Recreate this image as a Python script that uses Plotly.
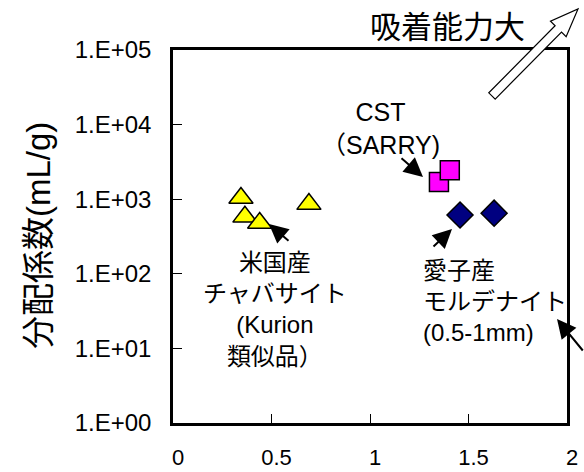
import math
import plotly.graph_objects as go

# ---- data ----
chabazite_x = [0.345, 0.365, 0.44, 0.69]
chabazite_y = [1040, 580, 480, 860]
cst_x = [1.35, 1.405]
cst_y = [1700, 2450]
mordenite_x = [1.457, 1.63]
mordenite_y = [615, 650]

x_tickvals = [0, 0.5, 1, 1.5, 2]
x_ticktext = ["0", "0.5", "1", "1.5", "2"]
y_tickvals = [1, 10, 100, 1000, 10000, 100000]
y_ticktext = ["1.E+00", "1.E+01", "1.E+02", "1.E+03", "1.E+04", "1.E+05"]

W, H = 584, 472
L, R, T, B = 173, 17, 50, 49
PW, PH = W - L - R, H - T - B

FONT = "Liberation Sans, Arial, Noto Sans CJK JP"


def px(xp):
    return (xp - L) / PW


def py(yp):
    return (H - B - yp) / PH


fig = go.Figure()

fig.add_trace(go.Scatter(
    x=chabazite_x, y=chabazite_y, mode="markers", name="チャバサイト",
    marker=dict(symbol="triangle-up", size=21, color="#FFFF00",
                line=dict(color="black", width=1.5)),
))
fig.add_trace(go.Scatter(
    x=cst_x, y=cst_y, mode="markers", name="CST",
    marker=dict(symbol="square", size=19, color="#FF00FF",
                line=dict(color="black", width=1.5)),
))
fig.add_trace(go.Scatter(
    x=mordenite_x, y=mordenite_y, mode="markers", name="モルデナイト",
    marker=dict(symbol="diamond", size=20, color="#000080",
                line=dict(color="black", width=1.5)),
))

# hollow block arrow ("吸着能力大")
tail = (492, 96)
tip = (578, 9)
dx, dy = tip[0] - tail[0], tip[1] - tail[1]
ln = math.hypot(dx, dy)
ux, uy = dx / ln, dy / ln
nx, ny = -uy, ux
hl, w, Wd = 28, 4.5, 11
bx, by = tip[0] - ux * hl, tip[1] - uy * hl
pts = [
    (tail[0] + nx * w, tail[1] + ny * w),
    (bx + nx * w, by + ny * w),
    (bx + nx * Wd, by + ny * Wd),
    tip,
    (bx - nx * Wd, by - ny * Wd),
    (bx - nx * w, by - ny * w),
    (tail[0] - nx * w, tail[1] - ny * w),
]
path = "M " + " L ".join(f"{px(a):.5f},{py(b):.5f}" for a, b in pts) + " Z"
fig.add_shape(type="path", path=path, xref="paper", yref="paper",
              fillcolor="white", line=dict(color="black", width=1.2),
              layer="above")

annos = []
# texts
annos.append(dict(text="吸着能力大", x=px(447), y=py(28), xref="paper", yref="paper",
                  showarrow=False, font=dict(size=31, family=FONT, color="black"),
                  xanchor="center", yanchor="middle"))
annos.append(dict(text="CST<br>（SARRY)", x=px(380), y=py(128), xref="paper", yref="paper",
                  showarrow=False, font=dict(size=25, family=FONT, color="black"),
                  xanchor="center", yanchor="middle", align="center"))
annos.append(dict(text="米国産<br>チャバサイト<br>(Kurion<br>類似品）", x=px(275), y=py(309),
                  xref="paper", yref="paper", showarrow=False,
                  font=dict(size=24, family=FONT, color="black"),
                  xanchor="center", yanchor="middle", align="center"))
annos.append(dict(text="愛子産<br>モルデナイト<br>(0.5-1mm)", x=px(421), y=py(301),
                  xref="paper", yref="paper", showarrow=False,
                  font=dict(size=24, family=FONT, color="black"),
                  xanchor="left", yanchor="middle", align="left"))
annos.append(dict(text="分配係数(mL/g)", x=px(38), y=py(236), xref="paper", yref="paper",
                  showarrow=False, textangle=-90,
                  font=dict(size=33, family=FONT, color="black"),
                  xanchor="center", yanchor="middle"))

# small black arrows (tip, tail)
for (tx, ty), (sx, sy) in [((269, 224), (290, 242)),
                           ((423, 177), (400, 157)),
                           ((452, 229), (432, 248)),
                           ((557, 319), (592, 352))]:
    annos.append(dict(text="", x=px(tx), y=py(ty), xref="paper", yref="paper",
                      ax=sx - tx, ay=sy - ty, axref="pixel", ayref="pixel",
                      showarrow=True, arrowhead=2, arrowsize=1.9, arrowwidth=2,
                      arrowcolor="black", standoff=0))

fig.update_layout(
    width=W, height=H,
    margin=dict(l=L, r=R, t=T, b=B, pad=0, autoexpand=False),
    paper_bgcolor="white", plot_bgcolor="white",
    showlegend=False,
    font=dict(family=FONT, color="black"),
    annotations=annos,
)
fig.update_xaxes(
    range=[0, 2], tickvals=x_tickvals, ticktext=x_ticktext,
    ticks="inside", ticklen=9, tickwidth=1, tickcolor="black",
    showline=True, linecolor="black", linewidth=2.5, mirror=True,
    showgrid=False, zeroline=False, automargin=False,
    tickfont=dict(size=22, family=FONT, color="black"),
    ticklabelstandoff=13, ticklabelshift=5,
)
fig.update_yaxes(
    type="log", range=[0, 5], tickvals=y_tickvals, ticktext=y_ticktext,
    ticks="inside", ticklen=9, tickwidth=1, tickcolor="black",
    showline=True, linecolor="black", linewidth=2.5, mirror=True,
    showgrid=False, zeroline=False, automargin=False,
    tickfont=dict(size=24, family=FONT, color="black"),
    ticklabelstandoff=14,
)

fig.write_html("out.html", config={"displayModeBar": False},
               post_script="document.body.style.margin='0';document.body.style.overflow='hidden';")
